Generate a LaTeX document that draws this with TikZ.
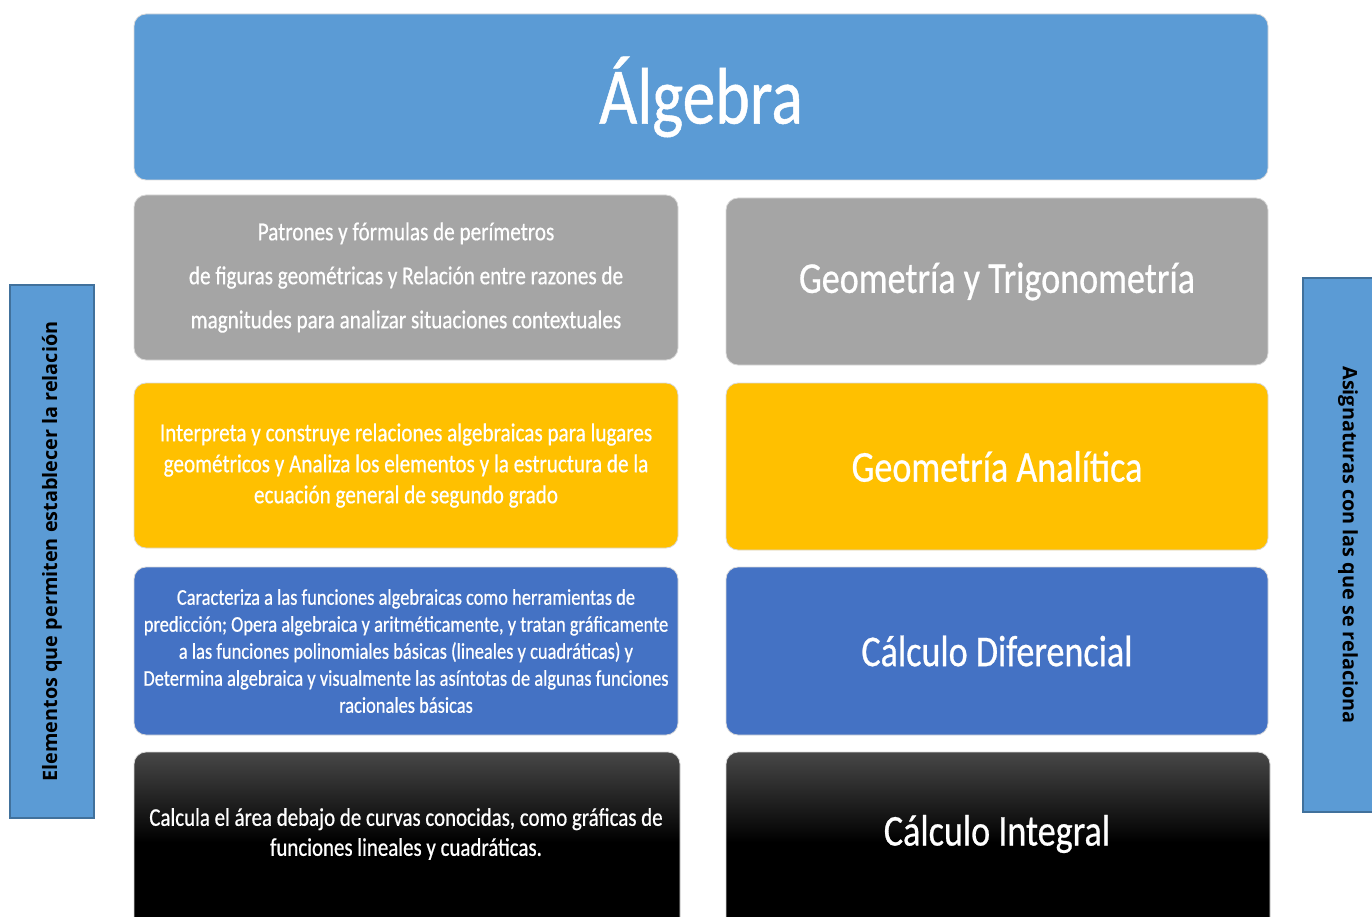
\documentclass[tikz,border=0pt]{standalone}
\usepackage{fontspec}
\setmainfont{Carlito}
\newfontfamily\cond[FakeStretch=0.83]{Carlito}
\newfontfamily\condb[FakeStretch=0.82,FakeBold=0.6]{Carlito}
\newfontfamily\sidefont{Open Sans}
\definecolor{topblue}{HTML}{5B9BD5}
\definecolor{sideedge}{HTML}{41719C}
\definecolor{greybox}{HTML}{A5A5A5}
\definecolor{yellowbox}{HTML}{FFC000}
\definecolor{bluebox}{HTML}{4472C4}
\tikzset{
  box/.style={rounded corners=12pt, draw=gray!30, line width=0.8pt, inner sep=0pt, align=center, text=white},
  side/.style={draw=sideedge, line width=1.2pt, fill=topblue, inner sep=0pt},
  sidetext/.style={text=black, font=\sidefont\bfseries\fontsize{19.8}{22}\selectfont},
  big/.style={font=\condb\fontsize{44}{50}\selectfont},
  small/.style={text=white, align=center},
}
\begin{document}
\begin{tikzpicture}[x=1pt,y=-1pt]
\clip (0,0) rectangle (1372,917);
% title
\node[box, fill=topblue, minimum width=1134pt, minimum height=166pt] (alg) at (701,97) {};
\node[text=white, font=\condb\fontsize{80}{90}\selectfont] (algt) at (alg.center) {Álgebra};
% row 2
\node[box, fill=greybox, minimum width=544pt, minimum height=165pt] (l2) at (406,277.5) {};
\node[small, font=\condb\fontsize{25.8}{44}\selectfont] (l2t) at (l2.center) {Patrones y fórmulas de perímetros\\de figuras geométricas y Relación entre razones de\\magnitudes para analizar situaciones contextuales};
\node[box, fill=greybox, minimum width=542pt, minimum height=167pt] (r2) at (997,281.5) {};
\node[text=white, big] (r2t) at (r2.center) {Geometría y Trigonometría};
% row 3
\node[box, fill=yellowbox, minimum width=544pt, minimum height=165pt] (l3) at (406,465.5) {};
\node[small, font=\condb\fontsize{25.8}{31}\selectfont] (l3t) at (l3.center) {Interpreta y construye relaciones algebraicas para lugares\\geométricos y Analiza los elementos y la estructura de la\\ecuación general de segundo grado};
\node[box, fill=yellowbox, minimum width=542pt, minimum height=167pt] (r3) at (997,466.5) {};
\node[text=white, big] (r3t) at (r3.center) {Geometría Analítica};
% row 4
\node[box, fill=bluebox, minimum width=544pt, minimum height=168pt] (l4) at (406,651) {};
\node[small, font=\condb\fontsize{22.5}{27}\selectfont] (l4t) at (l4.center) {Caracteriza a las funciones algebraicas como herramientas de\\predicción; Opera algebraica y aritméticamente, y tratan gráficamente\\a las funciones polinomiales básicas (lineales y cuadráticas) y\\Determina algebraica y visualmente las asíntotas de algunas funciones\\racionales básicas};
\node[box, fill=bluebox, minimum width=542pt, minimum height=168pt] (r4) at (997,651) {};
\node[text=white, big] (r4t) at (r4.center) {Cálculo Diferencial};
% row 5
\node[box, top color=black!72, bottom color=black, middle color=black, minimum width=546pt, minimum height=180pt] (l5) at (407,842) {};
\node[small, font=\condb\fontsize{25.5}{30}\selectfont] (l5t) at (406,834) {Calcula el área debajo de curvas conocidas, como gráficas de\\funciones lineales y cuadráticas.};
\node[box, top color=black!72, bottom color=black, middle color=black, minimum width=544pt, minimum height=180pt] (r5) at (998,842) {};
\node[text=white, big] (r5t) at (997,834) {Cálculo Integral};
% side bars
\node[side, minimum width=84pt, minimum height=533pt] (ls) at (52,551.5) {};
\node[sidetext, rotate=90] (lst) at (ls.center) {Elementos que permiten establecer la relación};
\node[side, minimum width=80pt, minimum height=534pt] (rs) at (1343,545) {};
\node[sidetext, rotate=-90] (rst) at (1348,545) {Asignaturas con las que se relaciona};
\end{tikzpicture}
\end{document}
